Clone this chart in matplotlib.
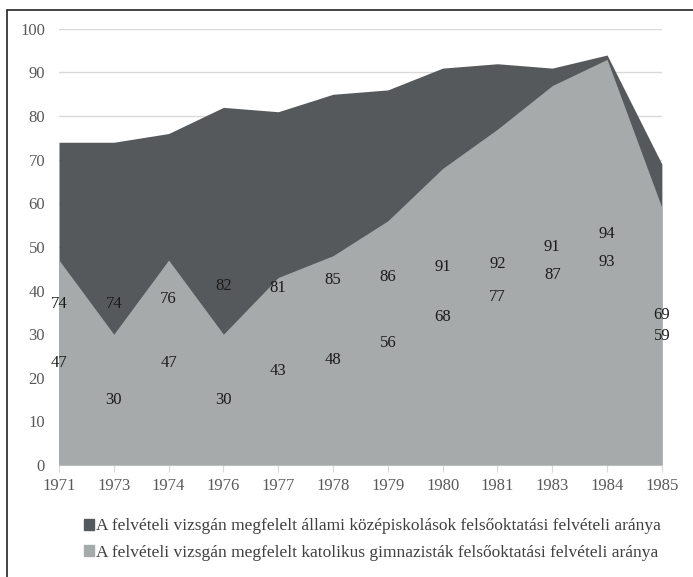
import numpy as np
import matplotlib

matplotlib.use("Agg")
import matplotlib.pyplot as plt
from matplotlib.patches import Rectangle, Patch

plt.rcParams["font.family"] = ["Liberation Serif", "DejaVu Serif"]

years = ["1971", "1973", "1974", "1976", "1977", "1978", "1979",
         "1980", "1981", "1983", "1984", "1985"]
allami = [74, 74, 76, 82, 81, 85, 86, 91, 92, 91, 94, 69]
katolikus = [47, 30, 47, 30, 43, 48, 56, 68, 77, 87, 93, 59]

label_allami = "A felvételi vizsgán megfelelt állami középiskolások felsőoktatási felvételi aránya"
label_katol = "A felvételi vizsgán megfelelt katolikus gimnazisták felsőoktatási felvételi aránya"

c_dark = "#56595b"
c_light = "#a7aaab"

fig = plt.figure(figsize=(6.93, 5.77), dpi=100)
ax = fig.add_axes([0.0851, 0.194, 0.870, 0.756])

x = np.arange(len(years))
ax.fill_between(x, 0, allami, color=c_dark, lw=0, zorder=2)
ax.fill_between(x, 0, katolikus, color=c_light, lw=0, zorder=3)

# data labels centred at half height; push the upper one up when they would collide
for xi, a, k in zip(x, allami, katolikus):
    ya, yk = a / 2, k / 2
    if ya - yk < 5:
        ya = yk + 6.5
    ax.text(xi, ya, str(a), ha="center", va="center", fontsize=12, color="#1a1a1a", zorder=5)
    ax.text(xi, yk, str(k), ha="center", va="center", fontsize=12, color="#1a1a1a", zorder=5)

ax.set_xlim(0, len(years) - 1)
ax.set_ylim(0, 100)
ax.set_yticks(range(0, 101, 10))
ax.set_xticks(x)
ax.set_xticklabels(years)
ax.yaxis.grid(True, color="#d9d9d9", lw=1, zorder=0)
ax.set_axisbelow(True)
for s in ["top", "right", "left"]:
    ax.spines[s].set_visible(False)
ax.spines["bottom"].set_color("#d9d9d9")
ax.tick_params(axis="y", length=0, labelsize=12, labelcolor="#595959", pad=10)
ax.tick_params(axis="x", length=5, color="#d9d9d9", labelsize=12, labelcolor="#595959", pad=4)

handles = [Patch(color=c_dark, label=label_allami), Patch(color=c_light, label=label_katol)]
fig.legend(handles=handles, loc="upper left", bbox_to_anchor=(0.108, 0.117),
           frameon=False, fontsize=12.5, handlelength=0.6, handleheight=0.6,
           handletextpad=0.1, labelspacing=0.6, borderpad=0, labelcolor="#404040")

# outer frame of the chart (runs off the right and bottom edges)
fig.patches.append(Rectangle((7 / 693, -0.05), 1.1, 1 - 10 / 577 + 0.05,
                             transform=fig.transFigure, fill=False,
                             edgecolor="#222222", lw=1.2))

fig.savefig("out.png", dpi=100)
